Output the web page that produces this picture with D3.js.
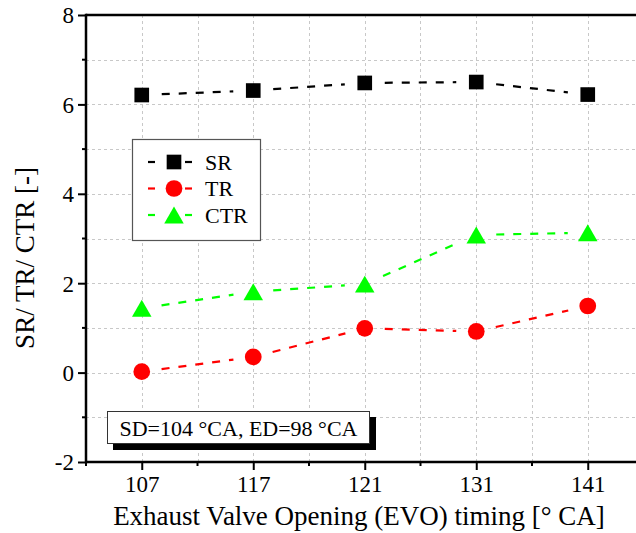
<!DOCTYPE html>
<html>
<head>
<meta charset="utf-8">
<script src="https://cdn.jsdelivr.net/npm/d3@7/dist/d3.min.js"></script>
<style>
  html, body { margin: 0; padding: 0; background: #fff; }
  svg { display: block; }
  text { font-family: "Liberation Serif", "Times New Roman", serif; fill: #000; }
</style>
</head>
<body>
<svg id="chart" width="636" height="533"></svg>
<script>
// EVO timing categories [deg CA]
const categories = ["107", "117", "121", "131", "141"];
// Ratios per EVO timing
const srValues  = [6.21, 6.31, 6.48, 6.50, 6.22];
const trValues  = [0.02, 0.35, 0.99, 0.92, 1.49];
const ctrValues = [1.44, 1.81, 1.98, 3.08, 3.13];
const yTicks = [-2, 0, 2, 4, 6, 8];

const seriesList = [
  { name: "SR",  values: srValues,  color: "#000000", symbol: d3.symbolSquare },
  { name: "TR",  values: trValues,  color: "#ff0000", symbol: d3.symbolCircle },
  { name: "CTR", values: ctrValues, color: "#00ff00", symbol: d3.symbolTriangle }
];

const svg = d3.select("#chart");
const W = 636;
const plotLeft = 86, plotTop = 15, plotBottom = 462;

// category index scale: half a step of padding on each side
const x = d3.scaleLinear().domain([-0.5, 4.5]).range([plotLeft, plotLeft + 5 * 111.5]);
const y = d3.scaleLinear().domain([-2, 8]).range([plotBottom, plotTop]);

const grid = svg.append("g").attr("stroke", "#c8c8c8").attr("stroke-width", 1)
  .attr("stroke-dasharray", "3,3");
// vertical grid at every half step
const vGrid = d3.range(0, 10).map(i => i * 0.5);
grid.selectAll("line.v").data(vGrid).join("line").attr("class", "v")
  .attr("x1", d => Math.round(x(d)) + 0.5).attr("x2", d => Math.round(x(d)) + 0.5)
  .attr("y1", plotTop).attr("y2", plotBottom);
grid.selectAll("line.h").data(d3.range(-1, 8)).join("line").attr("class", "h")
  .attr("x1", plotLeft).attr("x2", W)
  .attr("y1", d => Math.round(y(d)) + 0.5).attr("y2", d => Math.round(y(d)) + 0.5);

// Y axis
const yAxis = d3.axisLeft(y).tickValues(yTicks).tickSize(8).tickPadding(4)
  .tickFormat(d => String(d));
const yG = svg.append("g").attr("transform", `translate(${plotLeft},0)`).call(yAxis);
yG.select(".domain").remove();
yG.selectAll(".tick line").attr("stroke", "#000").attr("stroke-width", 2);
yG.selectAll(".tick text").style("font-size", "23px").attr("font-family", null)
  .attr("dy", "0.34em");
// minor y ticks
svg.append("g").selectAll("line").data(d3.range(-1, 8, 2)).join("line")
  .attr("x1", plotLeft - 4).attr("x2", plotLeft)
  .attr("y1", d => y(d)).attr("y2", d => y(d))
  .attr("stroke", "#000").attr("stroke-width", 2);

// X axis
const xAxis = d3.axisBottom(x).tickValues(d3.range(0, 5)).tickSize(8).tickPadding(5)
  .tickFormat(i => categories[i]);
const xG = svg.append("g").attr("transform", `translate(0,${plotBottom})`).call(xAxis);
xG.select(".domain").remove();
xG.selectAll(".tick line").attr("stroke", "#000").attr("stroke-width", 2);
xG.selectAll(".tick text").style("font-size", "23px").attr("font-family", null)
  .attr("y", 30).attr("dy", null);
// minor x ticks
svg.append("g").selectAll("line").data(d3.range(-0.5, 5, 1)).join("line")
  .attr("x1", d => x(d)).attr("x2", d => x(d))
  .attr("y1", plotBottom).attr("y2", plotBottom + 4)
  .attr("stroke", "#000").attr("stroke-width", 2);

// frame lines
svg.append("line").attr("x1", plotLeft).attr("x2", W).attr("y1", plotBottom).attr("y2", plotBottom)
  .attr("stroke", "#000").attr("stroke-width", 2.5);
svg.append("line").attr("x1", plotLeft).attr("x2", W).attr("y1", plotTop).attr("y2", plotTop)
  .attr("stroke", "#000").attr("stroke-width", 2.5);
svg.append("line").attr("x1", plotLeft).attr("x2", plotLeft)
  .attr("y1", plotTop - 1.2).attr("y2", plotBottom + 1.2)
  .attr("stroke", "#000").attr("stroke-width", 2.5);

// series lines, leaving a gap around each symbol
const gap = 20;
seriesList.forEach(s => {
  const pts = s.values.map((v, i) => [x(i), y(v)]);
  const segs = d3.pairs(pts).map(([a, b]) => {
    const dx = b[0] - a[0], dy = b[1] - a[1], L = Math.hypot(dx, dy);
    const ux = dx / L, uy = dy / L;
    return [a[0] + ux * gap, a[1] + uy * gap, b[0] - ux * gap, b[1] - uy * gap];
  });
  svg.append("g").selectAll("line").data(segs).join("line")
    .attr("x1", d => d[0]).attr("y1", d => d[1]).attr("x2", d => d[2]).attr("y2", d => d[3])
    .attr("stroke", s.color).attr("stroke-width", 2.2)
    .attr("stroke-dasharray", "8,9");
});

// symbols (triangle shifted so its bounding box is centred on the point)
const symbolSize = { SR: 215, TR: 220, CTR: 165 };
const symbolShift = name => name === "CTR" ? Math.sqrt(symbolSize.CTR / (Math.sqrt(3) * 3)) / 2 : 0;
seriesList.forEach(s => {
  const sym = d3.symbol().type(s.symbol).size(symbolSize[s.name]);
  svg.append("g").selectAll("path").data(s.values).join("path")
    .attr("d", sym)
    .attr("transform", (v, i) => `translate(${x(i)},${y(v) + symbolShift(s.name)})`)
    .attr("fill", s.color);
});

// legend
const lg = svg.append("g");
lg.append("rect").attr("x", 132.5).attr("y", 139.5).attr("width", 128).attr("height", 101)
  .attr("fill", "#fff").attr("stroke", "#555").attr("stroke-width", 1.2);
seriesList.forEach((s, i) => {
  const cy = 162 + i * 26.5;
  const g = lg.append("g");
  g.append("line").attr("x1", 148).attr("x2", 155).attr("y1", cy).attr("y2", cy)
    .attr("stroke", s.color).attr("stroke-width", 2.2);
  g.append("line").attr("x1", 185).attr("x2", 192).attr("y1", cy).attr("y2", cy)
    .attr("stroke", s.color).attr("stroke-width", 2.2);
  g.append("path").attr("d", d3.symbol().type(s.symbol).size(symbolSize[s.name])())
    .attr("transform", `translate(174,${cy + symbolShift(s.name)})`)
    .attr("fill", s.color);
  g.append("text").attr("x", 205).attr("y", cy).attr("dy", "0.35em")
    .style("font-size", "22px").text(s.name);
});

// operating condition note with drop shadow
const note = svg.append("g");
note.append("rect").attr("x", 113).attr("y", 417).attr("width", 263).attr("height", 33)
  .attr("fill", "#000");
note.append("rect").attr("x", 107.5).attr("y", 411.5).attr("width", 262).attr("height", 32)
  .attr("fill", "#fff").attr("stroke", "#333").attr("stroke-width", 1);
note.append("text").attr("x", 238.5).attr("y", 436).attr("text-anchor", "middle")
  .style("font-size", "22px").text("SD=104 \u00b0CA, ED=98 \u00b0CA");

// axis titles
svg.append("text").attr("x", 359).attr("y", 525).attr("text-anchor", "middle")
  .style("font-size", "27px").text("Exhaust Valve Opening (EVO) timing [\u00b0 CA]");
svg.append("text").attr("transform", "translate(34,258) rotate(-90)").attr("text-anchor", "middle")
  .style("font-size", "27px").text("SR/ TR/ CTR [-]");
</script>
</body>
</html>
